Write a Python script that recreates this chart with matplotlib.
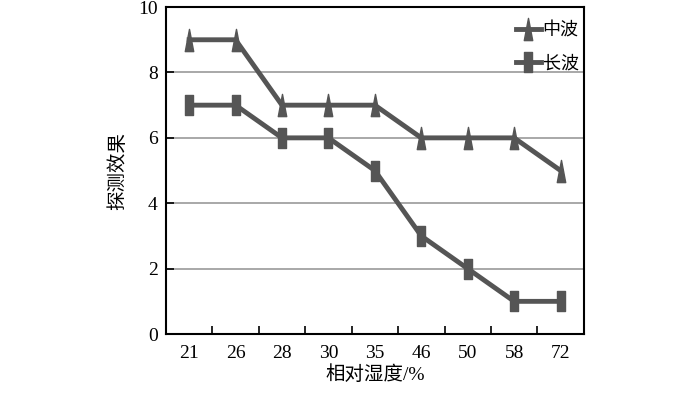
import matplotlib.pyplot as plt
from matplotlib.path import Path

plt.rcParams['font.family'] = ['Liberation Serif', 'Noto Sans CJK SC']

categories = ['21', '26', '28', '30', '35', '46', '50', '58', '72']
mid_wave = [9, 9, 7, 7, 7, 6, 6, 6, 5]
long_wave = [7, 7, 6, 6, 5, 3, 2, 1, 1]

# tall narrow rectangle and spike-like triangle markers
rect = Path([(-0.42, -1), (0.42, -1), (0.42, 1), (-0.42, 1), (-0.42, -1)],
            [Path.MOVETO, Path.LINETO, Path.LINETO, Path.LINETO, Path.CLOSEPOLY])
tri = Path([(-0.38, -1), (0.38, -1), (0, 1), (-0.38, -1)],
           [Path.MOVETO, Path.LINETO, Path.LINETO, Path.CLOSEPOLY])

fig = plt.figure(figsize=(7, 3.93), dpi=100)
ax = fig.add_axes([0.237, 0.150, 0.597, 0.832])

x = range(len(categories))
ax.plot(x, mid_wave, color='#555555', linewidth=3.5, marker=tri, markersize=16,
        label='中波', zorder=3)
ax.plot(x, long_wave, color='#555555', linewidth=3.5, marker=rect, markersize=14,
        label='长波', zorder=3)

ax.set_xlim(-0.5, len(categories) - 0.5)
ax.set_ylim(0, 10)
ax.set_yticks(range(0, 11, 2))
ax.set_xticks([i + 0.5 for i in range(len(categories) - 1)])
ax.set_xticklabels([])
ax.set_xticks(list(x), minor=True)
ax.set_xticklabels(categories, minor=True)
ax.tick_params(axis='x', which='major', direction='in', length=6, width=1.2)
ax.tick_params(axis='x', which='minor', length=0, pad=8, labelsize=14)
ax.tick_params(axis='y', direction='in', length=6, width=1.2, labelsize=14, pad=6)

for yv in range(2, 10, 2):
    ax.axhline(yv, color='#999999', linewidth=1.2, zorder=1)

for s in ax.spines.values():
    s.set_linewidth(1.5)

ax.set_xlabel('相对湿度/%', fontsize=14, labelpad=2)
ax.set_ylabel('探测效果', fontsize=14, labelpad=8)

ax.legend(loc='upper right', bbox_to_anchor=(1.005, 0.975), frameon=False,
          fontsize=13, handlelength=1.4, handletextpad=0.1, borderaxespad=0,
          labelspacing=0.9)

fig.savefig('out.png', dpi=100)
